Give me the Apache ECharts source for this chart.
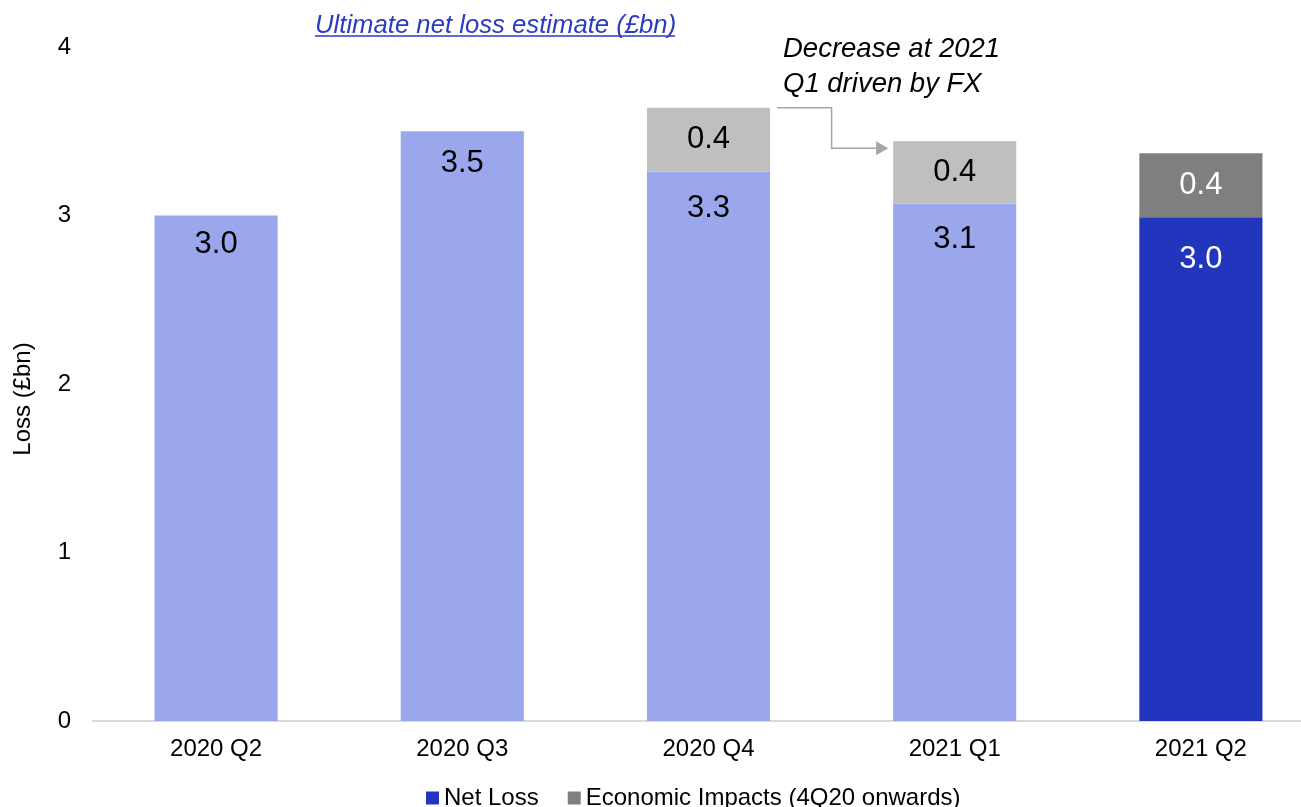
<!DOCTYPE html>
<html>
<head>
<meta charset="utf-8">
<script src="https://cdn.jsdelivr.net/npm/echarts@6/dist/echarts.min.js"></script>
<style>
html,body{margin:0;padding:0;background:#fff;overflow:hidden;}
#chart{width:1324px;height:807px;}
</style>
</head>
<body>
<div id="chart"></div>
<script>
const categories = ['2020 Q2', '2020 Q3', '2020 Q4', '2021 Q1', '2021 Q2'];
const netLoss = [3.0, 3.5, 3.26, 3.07, 2.99];
const economicImpacts = [null, null, 0.38, 0.37, 0.38];
const yTicks = [0, 1, 2, 3, 4];
const currentIndex = 4;

// label offset from the top of each net-loss bar (style only)
const netLabelDistance = [13, 17, 21, 20, 27];

const FONT = 'Liberation Sans, Arial, sans-serif';
const C = {
  netPrev: '#9BA7EC', netCur: '#2135BD',
  econPrev: '#BFBFBF', econCur: '#7F7F7F',
  axis: '#D9D9D9', title: '#2A3BC0', arrow: '#A6A6A6'
};

const chart = echarts.init(document.getElementById('chart'));

const netData = netLoss.map((v, i) => ({
  value: v,
  itemStyle: { color: i === currentIndex ? C.netCur : C.netPrev },
  label: { color: i === currentIndex ? '#fff' : '#000', distance: netLabelDistance[i] }
}));
const econData = economicImpacts.map((v, i) => ({
  value: v,
  itemStyle: { color: i === currentIndex ? C.econCur : C.econPrev },
  label: { color: i === currentIndex ? '#fff' : '#000' }
}));

chart.setOption({
  animation: false,
  textStyle: { fontFamily: FONT },
  grid: { left: 93, right: 0, top: 47, bottom: 86, containLabel: false },
  legend: {
    left: 421, top: 781,
    itemWidth: 13, itemHeight: 13, itemGap: 29,
    icon: 'rect',
    textStyle: { fontSize: 24, color: '#000', fontFamily: FONT },
    data: [
      { name: 'Net Loss', itemStyle: { color: C.netCur } },
      { name: 'Economic Impacts (4Q20 onwards)', itemStyle: { color: C.econCur } }
    ]
  },
  xAxis: {
    type: 'category',
    data: categories,
    axisLine: { lineStyle: { color: C.axis, width: 2 } },
    axisTick: { show: false },
    axisLabel: { fontSize: 24, color: '#000', margin: 16, fontFamily: FONT }
  },
  yAxis: {
    type: 'value',
    min: yTicks[0], max: yTicks[yTicks.length - 1], interval: 1,
    name: 'Loss (£bn)',
    nameLocation: 'middle',
    nameGap: 58,
    nameTextStyle: { fontSize: 24, color: '#000', fontFamily: FONT, padding: [0, 0, 0, -30] },
    splitLine: { show: false },
    axisLine: { show: false },
    axisTick: { show: false },
    axisLabel: { fontSize: 24, color: '#000', margin: 22, fontFamily: FONT }
  },
  series: [
    {
      name: 'Net Loss', type: 'bar', stack: 'total', barWidth: '50%',
      data: netData,
      label: {
        show: true, position: 'insideTop',
        fontSize: 31, fontFamily: FONT,
        formatter: p => p.value == null ? '' : Number(p.value).toFixed(1)
      }
    },
    {
      name: 'Economic Impacts (4Q20 onwards)', type: 'bar', stack: 'total', barWidth: '50%',
      data: econData,
      label: {
        show: true, position: 'inside',
        fontSize: 31, fontFamily: FONT,
        formatter: p => p.value == null ? '' : Number(p.value).toFixed(1)
      }
    }
  ]
});

// Annotations: title, callout text, elbow arrow (computed from the axes)
const q4 = 2, q1 = 3;
const total = i => (netLoss[i] || 0) + (economicImpacts[i] || 0);
const pQ4 = chart.convertToPixel({ gridIndex: 0 }, [q4, total(q4)]);
const pQ1 = chart.convertToPixel({ gridIndex: 0 }, [q1, total(q1)]);
const band = pQ1[0] - pQ4[0];
const half = band * 0.25;
const x0 = pQ4[0] + half + 7;
const xm = (pQ4[0] + half + pQ1[0] - half) / 2;
const xe = pQ1[0] - half - 5;
const y0 = pQ4[1];
const y1 = pQ1[1] + 7;

chart.setOption({
  graphic: [
    {
      type: 'text', left: 315, top: 13,
      style: { text: 'Ultimate net loss estimate (£bn)', fontSize: 25.7, fontStyle: 'italic', fill: C.title, fontFamily: FONT }
    },
    {
      type: 'line', shape: { x1: 315, y1: 36, x2: 675, y2: 36 },
      style: { stroke: C.title, lineWidth: 1.5 }
    },
    {
      type: 'text', left: 783, top: 32,
      style: { text: 'Decrease at 2021\nQ1 driven by FX', fontSize: 27.5, lineHeight: 35, fontStyle: 'italic', fill: '#000', fontFamily: FONT }
    },
    {
      type: 'polyline',
      shape: { points: [[x0, y0], [xm, y0], [xm, y1], [xe - 10, y1]] },
      style: { stroke: C.arrow, lineWidth: 1.5, fill: null }
    },
    {
      type: 'polygon',
      shape: { points: [[xe - 12, y1 - 7], [xe, y1], [xe - 12, y1 + 7]] },
      style: { fill: C.arrow }
    }
  ]
});
</script>
</body>
</html>
